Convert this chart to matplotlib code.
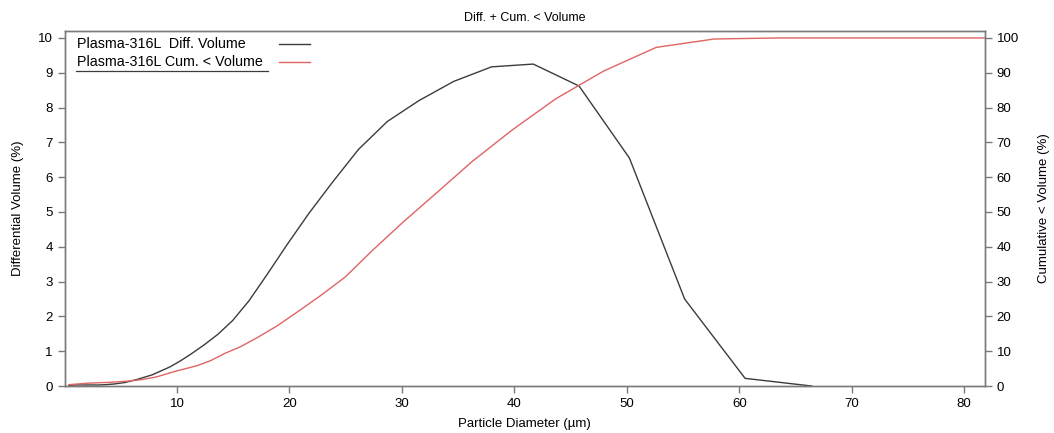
import matplotlib
matplotlib.use("Agg")
import matplotlib.pyplot as plt
from matplotlib.lines import Line2D

plt.rcParams['font.family'] = ['Liberation Sans', 'DejaVu Sans']

# ---- Data ----
# differential volume, plotted at channel mid points (um)
diff_size = [0.39, 1.0, 2.1, 3.06, 3.69, 4.44, 5.36, 6.45, 7.78, 9.37, 10.29, 11.29,
             12.40, 13.61, 14.94, 16.40, 18.00, 19.76, 21.70, 23.81, 26.14, 28.70,
             31.51, 34.59, 37.97, 41.68, 45.75, 50.23, 55.14, 60.52, 66.44]
diff_vol = [0.02, 0.03, 0.03, 0.03, 0.04, 0.06, 0.10, 0.19, 0.32, 0.55, 0.72, 0.93,
            1.18, 1.48, 1.88, 2.45, 3.2, 4.05, 4.95, 5.85, 6.8, 7.6,
            8.2, 8.75, 9.17, 9.25, 8.62, 6.55, 2.5, 0.22, 0.0]

# cumulative < volume, plotted at channel upper edges (um)
cum_size = [0.41, 2.0, 4.24, 5.61, 6.76, 8.15, 9.82, 10.78, 11.83, 12.99, 14.26,
            15.65, 17.18, 18.86, 20.71, 22.73, 24.95, 27.39, 30.07, 33.01, 36.24,
            39.78, 43.67, 47.94, 52.62, 57.77, 63.41, 69.61, 76.42, 83.89]
cum_vol = [0.4, 0.8, 1.1, 1.4, 1.8, 2.6, 4.2, 5.0, 5.9, 7.3, 9.4,
           11.3, 14.0, 17.2, 21.3, 25.9, 31.3, 39.0, 47.0, 55.3, 64.5,
           73.5, 82.5, 90.5, 97.3, 99.7, 100, 100, 100, 100]

x_ticks = [10, 20, 30, 40, 50, 60, 70, 80]
left_ticks = list(range(0, 11))
right_ticks = list(range(0, 101, 10))

black = '#3c3c3c'
red = '#e06464'
spine = '#7a7a7a'

fig = plt.figure(figsize=(10.54, 4.33), dpi=100)
ax = fig.add_axes([0.0613, 0.1085, 0.8732, 0.8199])
ax2 = ax.twinx()

ax.plot(diff_size, diff_vol, color=black, lw=1.0)
ax2.plot(cum_size, cum_vol, color=red, lw=1.0)

ax.set_xlim(0, 81.85)
ax.set_ylim(0, 10.2)
ax2.set_ylim(0, 102)
ax.set_xticks(x_ticks)
ax.set_yticks(left_ticks)
ax2.set_yticks(right_ticks)

for a in (ax, ax2):
    for s in a.spines.values():
        s.set_color(spine)
        s.set_linewidth(1.0)
    a.tick_params(colors=spine, labelcolor='black', labelsize=9.5, length=5, width=1)

ax.set_title("Diff. + Cum. < Volume", fontsize=9, pad=7)
ax.set_xlabel("Particle Diameter (µm)", fontsize=9.5, labelpad=6)
ax.set_ylabel("Differential Volume (%)", fontsize=9.5, labelpad=10)
ax2.set_ylabel("Cumulative < Volume (%)", fontsize=9.5, labelpad=14)

# ---- legend drawn by hand: text first, sample line after ----
ax.text(0.0135, 0.963, "Plasma-316L  Diff. Volume", transform=ax.transAxes,
        fontsize=10.3, va='center', ha='left')
ax.text(0.0135, 0.912, "Plasma-316L Cum. < Volume", transform=ax.transAxes,
        fontsize=10.3, va='center', ha='left')
ax.add_line(Line2D([0.233, 0.2665], [0.963, 0.963], transform=ax.transAxes,
                   color=black, lw=1.0))
ax.add_line(Line2D([0.233, 0.2665], [0.912, 0.912], transform=ax.transAxes,
                   color=red, lw=1.0))
ax.add_line(Line2D([0.0124, 0.221], [0.8885, 0.8885], transform=ax.transAxes,
                   color=black, lw=0.9))

fig.savefig("out.png", dpi=100)
